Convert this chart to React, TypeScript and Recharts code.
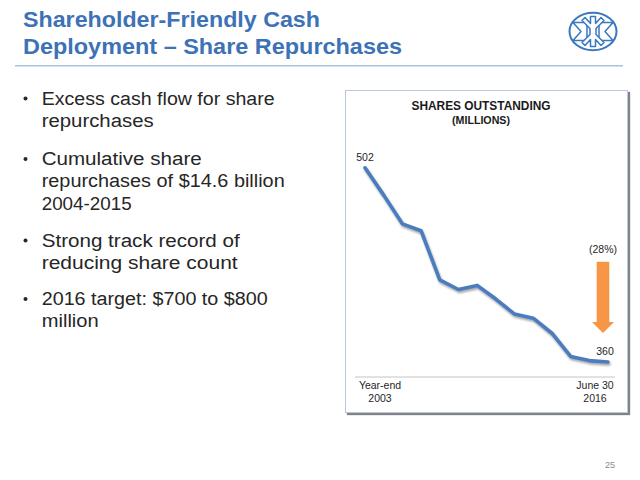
import React from 'react';
import { LineChart, Line, XAxis, YAxis, LabelList } from 'recharts';

// Shares outstanding, millions, year-end 2003 through June 30 2016
const years = ['2003', '2004', '2005', '2006', '2007', '2008', '2009', '2010', '2011', '2012', '2013', '2014', '2015', '2016'];
const shares = [502, 482, 461, 456, 420, 413, 416, 406, 395, 392, 381, 364, 361, 360];
const firstTickLines = ['Year-end', '2003'];
const lastTickLines = ['June 30', '2016'];

const data = years.map((y, i) => ({ year: y, shares: shares[i] }));

const BLUE = '#3d72b6';
const TEXT = '#262626';
const FONT = '"Liberation Sans", Arial, sans-serif';

const titleLines = [
  { text: 'Shareholder-Friendly Cash', y: 27, w: 297 },
  { text: 'Deployment – Share Repurchases', y: 53.5, w: 379 },
];

const bullets = [
  [{ t: 'Excess cash flow for share', w: 233 }, { t: 'repurchases', w: 112 }],
  [{ t: 'Cumulative share', w: 160 }, { t: 'repurchases of $14.6 billion', w: 243 }, { t: '2004-2015', w: 90 }],
  [{ t: 'Strong track record of', w: 198 }, { t: 'reducing share count', w: 196 }],
  [{ t: '2016 target: $700 to $800', w: 226 }, { t: 'million', w: 57 }],
];
const bulletTops = [104.5, 165, 246.5, 305];
const LINE_GAP = 22.3;

const AxisTick = (props: any) => {
  const { x, y, index } = props;
  const last = years.length - 1;
  if (index !== 0 && index !== last) return null;
  const lines = index === 0 ? firstTickLines : lastTickLines;
  const cx = index === 0 ? x + 15 : x - 13;
  return (
    <g>
      {lines.map((l, i) => (
        <text key={i} x={cx} y={y + 4 + i * 13} textAnchor="middle" fontSize={10.5} fill={TEXT} fontFamily={FONT}>
          {l}
        </text>
      ))}
    </g>
  );
};

const EndLabel = (props: any) => {
  const { x, y, index, value } = props;
  if (index !== 0 && index !== shares.length - 1) return null;
  const dx = index === 0 ? 0 : -3;
  return (
    <text x={x + dx} y={y - 7} textAnchor="middle" fontSize={10.5} fill={TEXT} fontFamily={FONT}>
      {value}
    </text>
  );
};

export default function App() {
  return (
    <div style={{ position: 'absolute', left: 0, top: 0, width: 640, height: 480, background: '#fff', overflow: 'hidden' }}>
      <style>{`.shares-line .recharts-line-curve { filter: drop-shadow(1px 2px 1.2px rgba(0,0,0,0.35)); }`}</style>

      {/* chart frame */}
      <div
        style={{
          position: 'absolute',
          left: 345,
          top: 90,
          width: 283,
          height: 323,
          boxSizing: 'border-box',
          border: '1.5px solid #b8c8e2',
          boxShadow: '2px 2px 1px rgba(90,90,90,0.75)',
          background: '#fff',
        }}
      />

      <div style={{ position: 'absolute', left: 345, top: 90 }}>
        <LineChart width={283} height={323} data={data} margin={{ top: 39.5, right: 13, bottom: 0, left: 10 }}>
          <XAxis
            dataKey="year"
            scale="point"
            padding={{ left: 10, right: 7 }}
            height={36}
            axisLine={{ stroke: '#c4c4c4', strokeWidth: 1 }}
            tickLine={false}
            interval={0}
            tick={<AxisTick />}
          />
          <YAxis hide domain={[349, 530]} />
          <Line
            className="shares-line"
            type="linear"
            dataKey="shares"
            stroke="#4a7dc0"
            strokeWidth={3.6}
            strokeLinejoin="round"
            strokeLinecap="round"
            dot={false}
            isAnimationActive={false}
          >
            <LabelList dataKey="shares" content={<EndLabel />} />
          </Line>
        </LineChart>
      </div>

      <svg width={640} height={480} style={{ position: 'absolute', left: 0, top: 0, pointerEvents: 'none' }}>
        {/* slide title */}
        {titleLines.map((l, i) => (
          <text key={i} x={23} y={l.y} fontSize={21.5} fontWeight="bold" fill={BLUE} fontFamily={FONT} textLength={l.w} lengthAdjust="spacingAndGlyphs">
            {l.text}
          </text>
        ))}
        <line x1={15} x2={623} y1={65.7} y2={65.7} stroke="#a9c2e1" strokeWidth={1.5} />

        {/* logo */}
        <g transform="translate(593,31.5)" fill="#fff" stroke="#3a78c0" strokeWidth={1.5} strokeLinejoin="round">
          <ellipse cx={0} cy={0} rx={23.5} ry={18.8} strokeWidth={2} fill="none" />
          <path d="M-20,-9 H-6 V9 H-20 L-12,0 Z" />
          <path d="M20,-9 H6 V9 H20 L12,0 Z" />
          <path d="M-2.5,-15 H2.5 V-8 L8,-14 L11,-11 L3,-3 V3 L11,11 L8,14 L2.5,8 V15 H-2.5 V8 L-8,14 L-11,11 L-3,3 V-3 L-11,-11 L-8,-14 L-2.5,-8 Z" />
        </g>

        {/* bullets */}
        {bullets.map((b, bi) => (
          <g key={bi}>
            <circle cx={25.5} cy={bulletTops[bi] - 6} r={2} fill={TEXT} />
            {b.map((ln, li) => (
              <text
                key={li}
                x={41.7}
                y={bulletTops[bi] + li * LINE_GAP}
                fontSize={18}
                fill={TEXT}
                fontFamily={FONT}
                textLength={ln.w}
                lengthAdjust="spacingAndGlyphs"
              >
                {ln.t}
              </text>
            ))}
          </g>
        ))}

        {/* chart heading */}
        <text x={481} y={110} textAnchor="middle" fontSize={12.5} fontWeight="bold" fill="#1a1a1a" fontFamily={FONT} textLength={139} lengthAdjust="spacingAndGlyphs">
          SHARES OUTSTANDING
        </text>
        <text x={481} y={123.5} textAnchor="middle" fontSize={10} fontWeight="bold" fill="#1a1a1a" fontFamily={FONT} textLength={58} lengthAdjust="spacingAndGlyphs">
          (MILLIONS)
        </text>

        {/* decline annotation */}
        <text x={603} y={252.5} textAnchor="middle" fontSize={10.5} fill={TEXT} fontFamily={FONT}>
          (28%)
        </text>
        <path d="M596.7,261.7 H609.3 V322 H614 L603,333 L592,322 H596.7 Z" fill="#f79646" />

        {/* page number */}
        <text x={610} y={468} textAnchor="middle" fontSize={9} fill="#8a8a8a" fontFamily={FONT}>
          25
        </text>
      </svg>
    </div>
  );
}
